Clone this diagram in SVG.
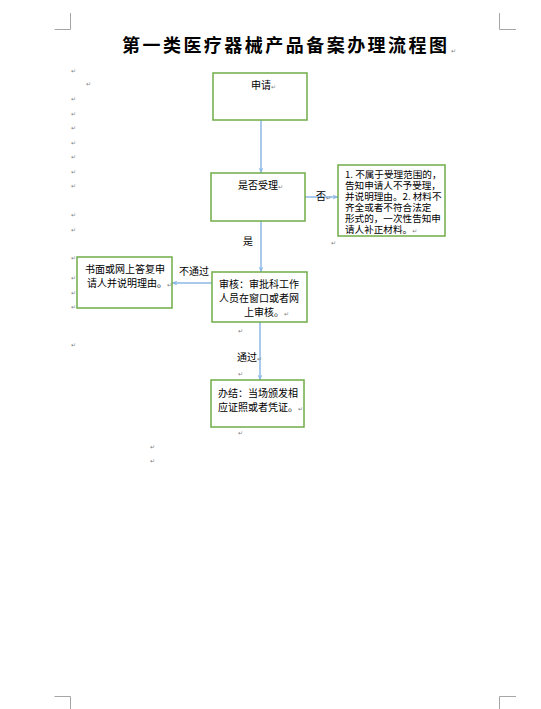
<svg xmlns="http://www.w3.org/2000/svg" width="541" height="709" viewBox="0 0 541 709">
<style>
text{font-family:"Noto Sans CJK SC","Noto Sans",sans-serif;fill:#000}
.t{font-size:10px}
.r{font-size:9.6px}
.pm{font-size:6px;fill:#808080;font-family:"DejaVu Sans",sans-serif}
.box{fill:#fff;stroke:#70AD47;stroke-width:1.5}
.crn{fill:none;stroke:#A6A6A6;stroke-width:1}
.con{fill:none;stroke:#8DB8E6;stroke-width:1.5}
</style>
<defs>
<marker id="ah" viewBox="0 0 10 10" refX="9" refY="5" markerWidth="6" markerHeight="6" orient="auto" markerUnits="userSpaceOnUse">
<path d="M0,1 L10,5 L0,9 L3,5 Z" fill="#8DB8E6"/>
</marker>
</defs>
<rect width="541" height="709" fill="#fff"/>
<g id="corners">
<path class="crn" d="M54.5,29.5 H70.5 V13"/>
<path class="crn" d="M499.5,13 V29.5 H516"/>
<path class="crn" d="M54.5,696.5 H70.5 V709"/>
<path class="crn" d="M516,696.5 H499.5 V709"/>
</g>
<text id="title" x="122" y="52" font-size="18" font-weight="bold" textLength="325" lengthAdjust="spacing">第一类医疗器械产品备案办理流程图</text>
<g id="marks">
<text class="pm" x="451" y="53">↵</text>
<text class="pm" x="71" y="73">↵</text>
<text class="pm" x="86" y="86">↵</text>
<text class="pm" x="71" y="101">↵</text>
<text class="pm" x="71" y="116">↵</text>
<text class="pm" x="71" y="130">↵</text>
<text class="pm" x="71" y="145">↵</text>
<text class="pm" x="71" y="159">↵</text>
<text class="pm" x="71" y="174">↵</text>
<text class="pm" x="71" y="188">↵</text>
<text class="pm" x="71" y="217">↵</text>
<text class="pm" x="71" y="232">↵</text>
<text class="pm" x="71" y="260">↵</text>
<text class="pm" x="71" y="280">↵</text>
<text class="pm" x="71" y="295">↵</text>
<text class="pm" x="71" y="309">↵</text>
<text class="pm" x="71" y="347">↵</text>
<text class="pm" x="331" y="245">↵</text>
<text class="pm" x="238" y="333">↵</text>
<text class="pm" x="238" y="376">↵</text>
<text class="pm" x="238" y="435">↵</text>
<text class="pm" x="150" y="449">↵</text>
<text class="pm" x="150" y="463">↵</text>
</g>
<g id="connectors">
<line class="con" x1="261" y1="120" x2="261" y2="173" marker-end="url(#ah)"/>
<line class="con" x1="305" y1="197" x2="338" y2="197" marker-end="url(#ah)"/>
<line class="con" x1="261" y1="221" x2="261" y2="272" marker-end="url(#ah)"/>
<line class="con" x1="212" y1="283" x2="172" y2="283" marker-end="url(#ah)"/>
<line class="con" x1="260" y1="322" x2="260" y2="380" marker-end="url(#ah)"/>
<text class="t" x="316" y="200">否<tspan class="pm">↵</tspan></text>
<text class="t" x="243" y="245">是</text>
<text class="t" x="179" y="275">不通过</text>
<text class="t" x="237" y="361">通过<tspan class="pm">↵</tspan></text>
</g>
<g id="n1">
<rect class="box" x="213" y="73" width="94" height="47"/>
<text class="t" x="251" y="89">申请<tspan class="pm">↵</tspan></text>
</g>
<g id="n2">
<rect class="box" x="211" y="173" width="94" height="48"/>
<text class="t" x="238" y="189">是否受理<tspan class="pm">↵</tspan></text>
</g>
<g id="n3">
<rect class="box" x="338" y="165" width="107" height="71"/>
<text class="r"><tspan x="345" y="178">1. 不属于受理范围的，</tspan><tspan x="345" y="189">告知申请人不予受理，</tspan><tspan x="345" y="200">并说明理由。2. 材料不</tspan><tspan x="345" y="211">齐全或者不符合法定</tspan><tspan x="345" y="222">形式的，一次性告知申</tspan><tspan x="345" y="233">请人补正材料。</tspan><tspan class="pm">↵</tspan></text>
</g>
<g id="n4">
<rect class="box" x="77" y="257" width="95" height="51"/>
<text class="t" x="125" y="273" text-anchor="middle">书面或网上答复申</text>
<text class="t" x="87" y="287">请人并说明理由。<tspan class="pm">↵</tspan></text>
</g>
<g id="n5">
<rect class="box" x="212" y="272" width="95" height="50"/>
<text class="t" x="219" y="288">审核：审批科工作</text>
<text class="t" x="219" y="302">人员在窗口或者网</text>
<text class="t" x="244" y="316">上审核。<tspan class="pm">↵</tspan></text>
</g>
<g id="n6">
<rect class="box" x="211" y="380" width="93" height="47"/>
<text class="t" x="218" y="397">办结：当场颁发相</text>
<text class="t" x="218" y="411">应证照或者凭证。<tspan class="pm">↵</tspan></text>
</g>
</svg>
